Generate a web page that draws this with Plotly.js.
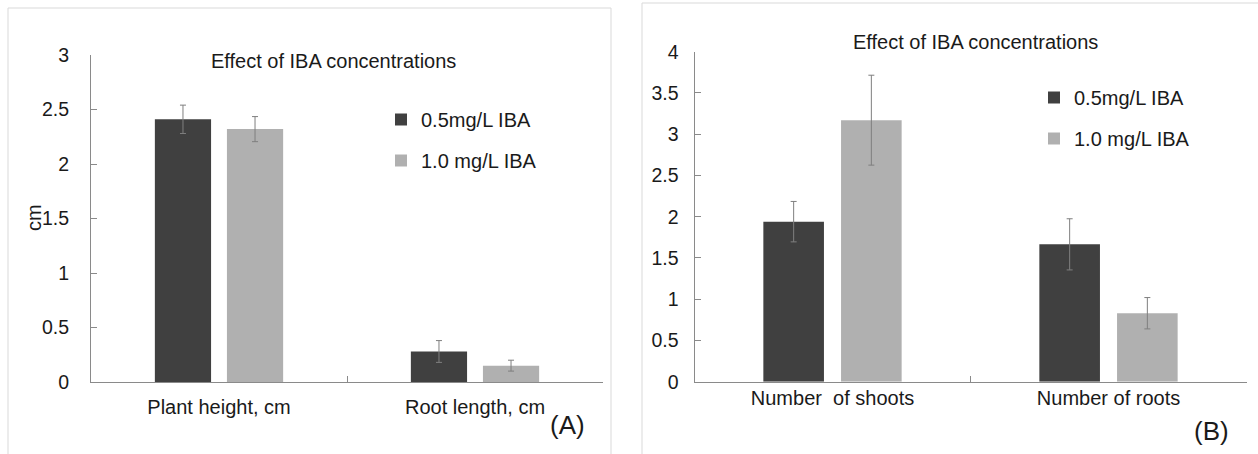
<!DOCTYPE html>
<html>
<head>
<meta charset="utf-8">
<script src="https://cdn.plot.ly/plotly-3.0.1.min.js"></script>
<style>html,body{margin:0;padding:0;background:#fff;}#chart{width:1258px;height:454px;}</style>
</head>
<body>
<div id="chart"></div>
<script>
const seriesNames = ['0.5mg/L IBA', '1.0 mg/L IBA'];
const seriesColors = ['#404040', '#b0b0b0'];

const categoriesA = ['Plant height, cm', 'Root length, cm'];
const lowA = [2.41, 0.28];
const lowAErr = [0.13, 0.10];
const highA = [2.32, 0.15];
const highAErr = [0.115, 0.05];

const categoriesB = ['Number\u00a0 of shoots', 'Number of roots'];
const lowB = [1.94, 1.665];
const lowBErr = [0.245, 0.31];
const highB = [3.17, 0.83];
const highBErr = [0.545, 0.19];

const titleText = 'Effect of IBA concentrations';
const yTicksA = [0, 0.5, 1, 1.5, 2, 2.5, 3];
const yTicksB = [0, 0.5, 1, 1.5, 2, 2.5, 3, 3.5, 4];

const W = 1258, H = 454;
const px = v => v / W;
const py = v => 1 - v / H;
const FONT = 'Liberation Sans, Arial, sans-serif';
const TXT = '#1a1a1a';
const AXC = '#8a8a8a';

function errBar(arr) {
  return {type: 'data', array: arr, visible: true, color: '#7f7f7f', thickness: 1, width: 3};
}

const traces = [
  {type: 'bar', x: categoriesA, y: lowA, name: seriesNames[0], marker: {color: seriesColors[0]},
   error_y: errBar(lowAErr), xaxis: 'x', yaxis: 'y', legend: 'legend', legendgroup: 'g0'},
  {type: 'bar', x: categoriesA, y: highA, name: seriesNames[1], marker: {color: seriesColors[1]},
   error_y: errBar(highAErr), xaxis: 'x', yaxis: 'y', legend: 'legend', legendgroup: 'g1'},
  {type: 'bar', x: categoriesB, y: lowB, name: seriesNames[0], marker: {color: seriesColors[0]},
   error_y: errBar(lowBErr), xaxis: 'x2', yaxis: 'y2', legend: 'legend2', legendgroup: 'h0'},
  {type: 'bar', x: categoriesB, y: highB, name: seriesNames[1], marker: {color: seriesColors[1]},
   error_y: errBar(highBErr), xaxis: 'x2', yaxis: 'y2', legend: 'legend2', legendgroup: 'h1'}
];

const xCommon = {
  type: 'category', tickson: 'boundaries', ticks: 'inside', ticklen: 6, tickcolor: AXC,
  showline: true, linecolor: AXC, linewidth: 1, showgrid: false, zeroline: false,
  tickfont: {family: FONT, size: 20, color: TXT}, fixedrange: true
};
const yCommon = {
  ticks: 'inside', ticklen: 6, tickcolor: AXC, showline: true, linecolor: AXC, linewidth: 1,
  showgrid: false, zeroline: false, tickfont: {family: FONT, size: 19.5, color: TXT}, fixedrange: true
};

const legendCommon = {
  font: {family: FONT, size: 20, color: TXT}, bgcolor: 'rgba(0,0,0,0)', borderwidth: 0,
  xanchor: 'left', yanchor: 'top', traceorder: 'grouped', tracegroupgap: 12
};

const layout = {
  width: W, height: H, autosize: false,
  margin: {l: 0, r: 0, t: 0, b: 0, pad: 0},
  paper_bgcolor: '#ffffff', plot_bgcolor: 'rgba(0,0,0,0)',
  barmode: 'group', bargap: 0.437, bargroupgap: 0.22,
  showlegend: true,
  xaxis: Object.assign({}, xCommon, {domain: [px(91), px(603)], anchor: 'y', ticklabelstandoff: 7}),
  yaxis: Object.assign({}, yCommon, {domain: [1 - 382 / H, 1 - 55 / H], range: [0, 3], anchor: 'x',
    tickvals: yTicksA, ticktext: yTicksA.map(String), ticklabelstandoff: 17}),
  xaxis2: Object.assign({}, xCommon, {domain: [px(694.5), px(1246.5)], anchor: 'y2', ticklabelstandoff: -2}),
  yaxis2: Object.assign({}, yCommon, {domain: [1 - 381.7 / H, 1 - 51.7 / H], range: [0, 4], anchor: 'x2',
    tickvals: yTicksB, ticktext: yTicksB.map(String), ticklabelstandoff: 11}),
  legend: Object.assign({}, legendCommon, {x: px(381), y: py(100)}),
  legend2: Object.assign({}, legendCommon, {x: px(1034), y: py(78)}),
  shapes: [
    {type: 'rect', xref: 'paper', yref: 'paper', x0: px(8), x1: px(611), y0: py(470), y1: py(8),
     line: {color: '#d9d9d9', width: 1}, fillcolor: 'rgba(0,0,0,0)', layer: 'below'},
    {type: 'rect', xref: 'paper', yref: 'paper', x0: px(642), x1: px(1280), y0: py(470), y1: py(3),
     line: {color: '#d9d9d9', width: 1}, fillcolor: 'rgba(0,0,0,0)', layer: 'below'}
  ],
  annotations: [
    {text: titleText, xref: 'paper', yref: 'paper', x: px(333), y: py(61), xanchor: 'center', yanchor: 'middle',
     showarrow: false, font: {family: FONT, size: 20, color: TXT}},
    {text: titleText, xref: 'paper', yref: 'paper', x: px(975), y: py(42), xanchor: 'center', yanchor: 'middle',
     showarrow: false, font: {family: FONT, size: 20, color: TXT}},
    {text: 'cm', xref: 'paper', yref: 'paper', x: px(34), y: py(218), xanchor: 'center', yanchor: 'middle',
     textangle: -90, showarrow: false, font: {family: FONT, size: 20, color: TXT}},
    {text: '(A)', xref: 'paper', yref: 'paper', x: px(567), y: py(425), xanchor: 'center', yanchor: 'middle',
     showarrow: false, font: {family: FONT, size: 26, color: TXT}},
    {text: '(B)', xref: 'paper', yref: 'paper', x: px(1211), y: py(431), xanchor: 'center', yanchor: 'middle',
     showarrow: false, font: {family: FONT, size: 26, color: TXT}}
  ]
};

Plotly.newPlot('chart', traces, layout, {staticPlot: true, displayModeBar: false});
</script>
</body>
</html>
